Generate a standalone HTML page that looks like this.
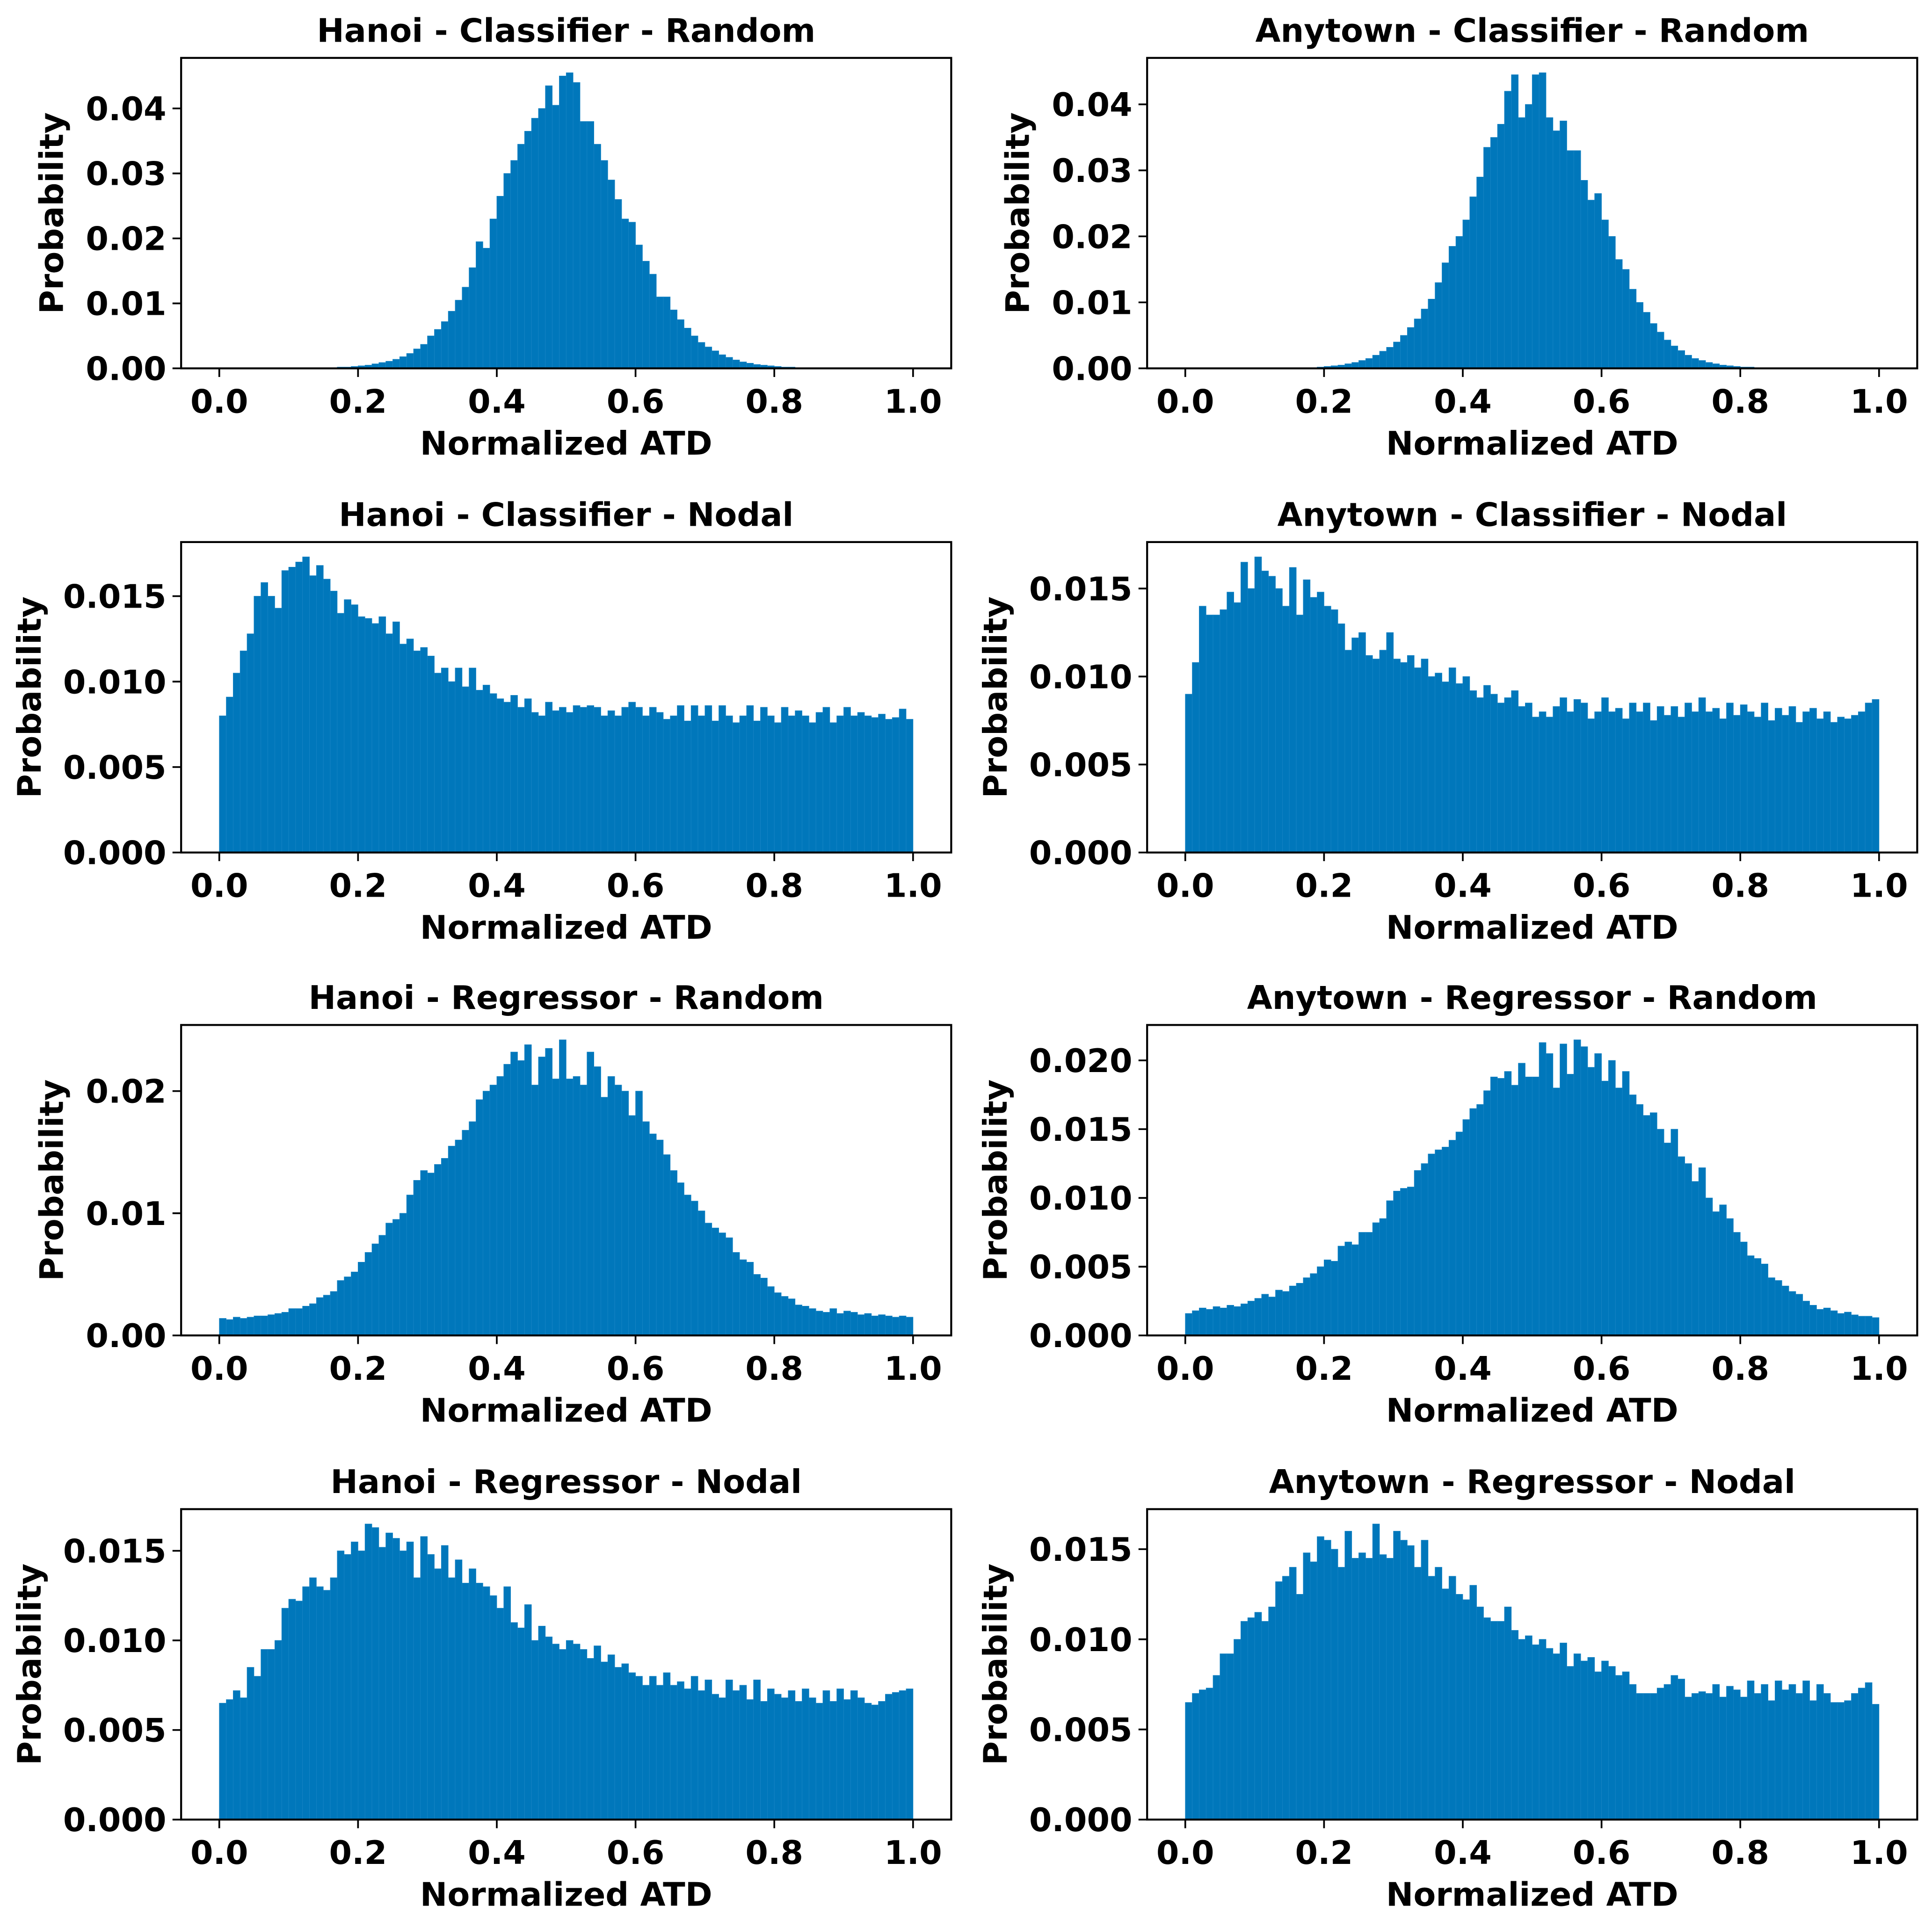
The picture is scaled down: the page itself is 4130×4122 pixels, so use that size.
<!DOCTYPE html>
<html><head><meta charset="utf-8"><style>
html,body{margin:0;padding:0;background:#fff}
svg{display:block}
text{font-family:"DejaVu Sans","Liberation Sans",sans-serif;font-weight:bold;fill:#000}
</style></head><body>
<svg id="fig" width="4130" height="4122" viewBox="0 0 1568 1565" preserveAspectRatio="none" xmlns="http://www.w3.org/2000/svg"></svg>
<script>
const hanoiClassRandom=[0,0,0,0,0,0,0,0,0,0,0,0,0,0,0,0.0001,0.0001,0.0002,0.0002,0.0003,
0.0004,0.0005,0.0007,0.0009,0.0011,0.0014,0.0018,0.0023,0.0030,0.0037,
0.0050,0.0060,0.0072,0.0088,0.0105,0.0125,0.0155,0.0195,0.0185,0.0230,
0.0265,0.0300,0.0320,0.0345,0.0365,0.0385,0.0400,0.0435,0.0405,0.0450,
0.0455,0.0440,0.0380,0.0380,0.0345,0.0320,0.0290,0.0260,0.0230,0.0225,
0.0190,0.0165,0.0145,0.0110,0.0110,0.0090,0.0075,0.0062,0.0050,0.0040,
0.0033,0.0027,0.0021,0.0017,0.0013,0.0010,0.0008,0.0006,0.0005,0.0004,
0.0003,0.0002,0.0002,0.0001,0.0001,0.0001,0,0,0,0,0,0,0,0,0,0,0,0,0,0];
const anytownClassRandom=[0,0,0,0,0,0,0,0,0,0,0,0,0,0,0,0,0,0.0001,0.0001,0.0002,
0.0003,0.0004,0.0005,0.0007,0.0009,0.0012,0.0015,0.0020,0.0026,0.0032,
0.0040,0.0050,0.0062,0.0075,0.0090,0.0105,0.0130,0.0160,0.0185,0.0200,
0.0225,0.0260,0.0290,0.0335,0.0350,0.0370,0.0420,0.0445,0.0380,0.0400,
0.0445,0.0448,0.0380,0.0360,0.0375,0.0330,0.0330,0.0285,0.0255,0.0265,
0.0225,0.0200,0.0165,0.0150,0.0120,0.0100,0.0085,0.0068,0.0055,0.0043,
0.0034,0.0027,0.0020,0.0015,0.0012,0.0009,0.0007,0.0005,0.0004,0.0003,
0.0002,0.0002,0.0001,0.0001,0.0001,0,0,0,0,0,0,0,0,0,0,0,0,0,0,0];
const hanoiClassNodal=[0.0080,0.0091,0.0105,0.0118,0.0128,0.0150,0.0158,0.0150,0.0143,0.0165,
0.0167,0.0170,0.0173,0.0162,0.0168,0.0160,0.0153,0.0140,0.0148,0.0145,
0.0138,0.0137,0.0134,0.0138,0.0128,0.0135,0.0122,0.0125,0.0118,0.0120,
0.0115,0.0105,0.0108,0.0100,0.0108,0.0097,0.0108,0.0095,0.0098,0.0093,
0.0090,0.0088,0.0092,0.0085,0.0090,0.0082,0.0080,0.0088,0.0083,0.0085,
0.0082,0.0086,0.0085,0.0086,0.0085,0.0080,0.0083,0.0080,0.0085,0.0088,
0.0085,0.0080,0.0085,0.0082,0.0078,0.0080,0.0086,0.0077,0.0086,0.0080,
0.0086,0.0077,0.0086,0.0080,0.0076,0.0080,0.0086,0.0077,0.0085,0.0080,
0.0076,0.0085,0.0080,0.0083,0.0080,0.0076,0.0082,0.0085,0.0076,0.0080,
0.0085,0.0080,0.0082,0.0080,0.0079,0.0081,0.0078,0.0079,0.0084,0.0078];
const anytownClassNodal=[0.0090,0.0108,0.0140,0.0135,0.0135,0.0138,0.0148,0.0142,0.0165,0.0150,
0.0168,0.0160,0.0157,0.0150,0.0140,0.0162,0.0135,0.0155,0.0145,0.0148,
0.0140,0.0138,0.0130,0.0115,0.0122,0.0125,0.0112,0.0110,0.0115,0.0125,
0.0110,0.0108,0.0112,0.0105,0.0110,0.0100,0.0102,0.0097,0.0105,0.0096,
0.0100,0.0092,0.0088,0.0095,0.0090,0.0085,0.0088,0.0092,0.0083,0.0085,
0.0077,0.0080,0.0077,0.0083,0.0088,0.0080,0.0087,0.0085,0.0076,0.0080,
0.0088,0.0080,0.0082,0.0076,0.0085,0.0080,0.0085,0.0075,0.0083,0.0078,
0.0083,0.0077,0.0085,0.0080,0.0088,0.0080,0.0082,0.0076,0.0085,0.0078,
0.0084,0.0080,0.0077,0.0085,0.0075,0.0082,0.0078,0.0083,0.0074,0.0080,
0.0082,0.0076,0.0080,0.0074,0.0077,0.0076,0.0078,0.0080,0.0085,0.0087];
const hanoiRegRandom=[0.0014,0.0013,0.0015,0.0014,0.0015,0.0016,0.0016,0.0017,0.0018,0.0019,
0.0022,0.0022,0.0024,0.0026,0.0031,0.0033,0.0036,0.0045,0.0048,0.0052,
0.0060,0.0068,0.0075,0.0082,0.0092,0.0095,0.0100,0.0115,0.0127,0.0135,
0.0133,0.0140,0.0145,0.0155,0.0160,0.0168,0.0175,0.0193,0.0200,0.0205,
0.0212,0.0222,0.0232,0.0225,0.0238,0.0205,0.0228,0.0235,0.0210,0.0242,
0.0210,0.0212,0.0205,0.0232,0.0220,0.0195,0.0212,0.0205,0.0200,0.0180,
0.0200,0.0175,0.0165,0.0160,0.0148,0.0135,0.0125,0.0115,0.0110,0.0102,
0.0092,0.0088,0.0084,0.0080,0.0068,0.0062,0.0060,0.0050,0.0047,0.0040,
0.0035,0.0032,0.0030,0.0025,0.0024,0.0022,0.0020,0.0019,0.0022,0.0018,
0.0020,0.0019,0.0017,0.0018,0.0016,0.0017,0.0016,0.0015,0.0016,0.0015];
const anytownRegRandom=[0.0016,0.0018,0.0020,0.0019,0.0021,0.0020,0.0022,0.0021,0.0023,0.0025,
0.0027,0.0030,0.0028,0.0033,0.0032,0.0036,0.0038,0.0042,0.0045,0.0050,
0.0055,0.0054,0.0065,0.0068,0.0066,0.0075,0.0075,0.0082,0.0085,0.0098,
0.0105,0.0107,0.0108,0.0120,0.0125,0.0132,0.0135,0.0137,0.0142,0.0148,
0.0157,0.0165,0.0168,0.0178,0.0188,0.0187,0.0192,0.0182,0.0198,0.0188,
0.0188,0.0213,0.0205,0.0180,0.0212,0.0190,0.0215,0.0210,0.0195,0.0205,
0.0185,0.0200,0.0180,0.0192,0.0175,0.0168,0.0160,0.0162,0.0150,0.0140,
0.0150,0.0130,0.0125,0.0112,0.0122,0.0100,0.0090,0.0095,0.0085,0.0075,
0.0068,0.0058,0.0056,0.0052,0.0042,0.0040,0.0036,0.0032,0.0030,0.0025,
0.0022,0.0019,0.0020,0.0018,0.0016,0.0017,0.0015,0.0014,0.0014,0.0013];
const hanoiRegNodal=[0.0065,0.0067,0.0072,0.0068,0.0085,0.0080,0.0095,0.0095,0.0100,0.0118,
0.0123,0.0122,0.0130,0.0135,0.0130,0.0128,0.0135,0.0150,0.0148,0.0155,
0.0150,0.0165,0.0163,0.0152,0.0160,0.0157,0.0150,0.0155,0.0135,0.0158,
0.0148,0.0140,0.0153,0.0135,0.0145,0.0132,0.0140,0.0132,0.0130,0.0125,
0.0118,0.0130,0.0110,0.0107,0.0120,0.0100,0.0108,0.0102,0.0098,0.0095,
0.0100,0.0098,0.0095,0.0090,0.0097,0.0088,0.0092,0.0085,0.0087,0.0082,
0.0080,0.0075,0.0080,0.0075,0.0082,0.0075,0.0077,0.0073,0.0080,0.0072,
0.0078,0.0070,0.0068,0.0078,0.0072,0.0075,0.0067,0.0078,0.0066,0.0073,
0.0070,0.0068,0.0072,0.0066,0.0073,0.0068,0.0065,0.0072,0.0066,0.0073,
0.0067,0.0072,0.0068,0.0065,0.0064,0.0066,0.0070,0.0071,0.0072,0.0073];
const anytownRegNodal=[0.0065,0.0070,0.0072,0.0073,0.0080,0.0092,0.0092,0.0100,0.0110,0.0112,
0.0115,0.0110,0.0118,0.0132,0.0135,0.0140,0.0125,0.0148,0.0143,0.0157,
0.0155,0.0150,0.0140,0.0160,0.0145,0.0148,0.0145,0.0164,0.0147,0.0145,
0.0160,0.0155,0.0152,0.0140,0.0155,0.0135,0.0140,0.0128,0.0135,0.0125,
0.0122,0.0130,0.0118,0.0112,0.0110,0.0110,0.0118,0.0105,0.0100,0.0102,
0.0097,0.0100,0.0095,0.0092,0.0098,0.0085,0.0092,0.0088,0.0090,0.0082,
0.0088,0.0085,0.0080,0.0082,0.0075,0.0070,0.0070,0.0070,0.0073,0.0075,
0.0080,0.0078,0.0068,0.0070,0.0071,0.0070,0.0075,0.0068,0.0074,0.0072,
0.0068,0.0077,0.0070,0.0075,0.0066,0.0077,0.0072,0.0075,0.0070,0.0077,
0.0066,0.0075,0.0070,0.0065,0.0065,0.0066,0.0070,0.0073,0.0076,0.0064];
const xTicks=[0,0.2,0.4,0.6,0.8,1.0];
const yTicksA=[0,0.01,0.02,0.03,0.04];
const yTicksB=[0,0.005,0.010,0.015];
const yTicksC=[0,0.01,0.02];
const yTicksD=[0,0.005,0.010,0.015,0.020];
const titles=["Hanoi - Classifier - Random","Anytown - Classifier - Random","Hanoi - Classifier - Nodal","Anytown - Classifier - Nodal","Hanoi - Regressor - Random","Anytown - Regressor - Random","Hanoi - Regressor - Nodal","Anytown - Regressor - Nodal"];

const NS="http://www.w3.org/2000/svg";
const svg=document.getElementById('fig');
const FS=26.5;
function mk(tag,attrs,parent){const e=document.createElementNS(NS,tag);for(const k in attrs)e.setAttribute(k,attrs[k]);(parent||svg).appendChild(e);return e;}
const panels=[
 {d:hanoiClassRandom,c:0,r:0,yt:yTicksA,dec:2},
 {d:anytownClassRandom,c:1,r:0,yt:yTicksA,dec:2},
 {d:hanoiClassNodal,c:0,r:1,yt:yTicksB,dec:3},
 {d:anytownClassNodal,c:1,r:1,yt:yTicksB,dec:3},
 {d:hanoiRegRandom,c:0,r:2,yt:yTicksC,dec:2},
 {d:anytownRegRandom,c:1,r:2,yt:yTicksD,dec:3},
 {d:hanoiRegNodal,c:0,r:3,yt:yTicksB,dec:3},
 {d:anytownRegNodal,c:1,r:3,yt:yTicksB,dec:3}];
const colL=[147,931], colW=625, rowT=[47,440,832,1225], rowH=252;
panels.forEach((p,k)=>{
 const L=colL[p.c],T=rowT[p.r],R=L+colW,B=T+rowH;
 const g=mk('g',{});
 
 
 const n=p.d.length;
 const ymax=Math.max(...p.d)*1.05;
 const xs=v=>L+(v+0.055)/1.11*colW;
 const ys=v=>B-v/ymax*rowH;
 p.d.forEach((v,i)=>{
  const x0=xs(i/n),x1=xs((i+1)/n);
  const b=mk('rect',{x:x0,y:ys(v),width:x1-x0,height:B-ys(v),fill:'#0077bb',stroke:'#1a86c6','stroke-width':0.3},g);
  
  
 });
 const f=mk('rect',{x:L,y:T,width:colW,height:rowH,fill:'none',stroke:'#000','stroke-width':1.6},g);
 
 
 xTicks.forEach(t=>{
  const x=xs(t);
  mk('line',{x1:x,x2:x,y1:B,y2:B+7,stroke:'#000','stroke-width':1.4},g);
  const tx=mk('text',{x:x,y:B+36,'text-anchor':'middle','font-size':FS},g);
  tx.textContent=t.toFixed(1);
  
  
 });
 p.yt.forEach(t=>{
  const y=ys(t);
  mk('line',{x1:L-7,x2:L,y1:y,y2:y,stroke:'#000','stroke-width':1.4},g);
  const tx=mk('text',{x:L-12,y:y+9.5,'text-anchor':'end','font-size':FS},g);
  tx.textContent=t.toFixed(p.dec);
  
  
 });
 const xl=mk('text',{x:(L+R)/2,y:B+70,'text-anchor':'middle','font-size':FS},g);
 xl.textContent='Normalized ATD';
 
 
 const yx=L-(p.dec===2?96:114), yc=(T+B)/2;
 const yl=mk('text',{x:yx,y:yc,'text-anchor':'middle','font-size':FS,transform:'rotate(-90 '+yx+' '+yc+')'},g);
 yl.textContent='Probability';
 
 
 const tt=mk('text',{x:(L+R)/2,y:T-13,'text-anchor':'middle','font-size':FS},g);
 tt.textContent=titles[k];
 
 
});
</script>
</body></html>
